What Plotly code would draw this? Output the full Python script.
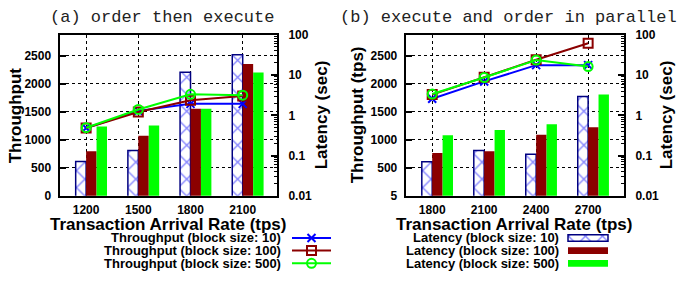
import plotly.graph_objects as go

W, H = 678, 283

# ---------------- data ----------------
cats_a = ["1200", "1500", "1800", "2100"]
thr_a_10 = [1210, 1515, 1640, 1640]
thr_a_100 = [1210, 1495, 1705, 1780]
thr_a_500 = [1215, 1540, 1810, 1795]
lat_a_10 = [0.071, 0.134, 11.8, 32]
lat_a_100 = [0.129, 0.31, 1.46, 18.9]
lat_a_500 = [0.53, 0.56, 1.46, 11.6]

cats_b = ["1800", "2100", "2400", "2700"]
thr_b_10 = [1730, 2040, 2330, 2330]
thr_b_100 = [1805, 2115, 2425, 2720]
thr_b_500 = [1815, 2110, 2420, 2305]
lat_b_10 = [0.070, 0.134, 0.108, 2.93]
lat_b_100 = [0.116, 0.129, 0.33, 0.51]
lat_b_500 = [0.32, 0.43, 0.60, 3.32]

thr_ticks = [0, 500, 1000, 1500, 2000, 2500]
thr_ticktext_a = ["0", "500", "1000", "1500", "2000", "2500"]
thr_ticktext_b = ["5", "500", "1000", "1500", "2000", "2500"]
lat_ticks = [0.01, 0.1, 1, 10, 100]
lat_ticktext = ["0.01", "0.1", "1", "10", "100"]
lat_minor = [m * d for d in (0.01, 0.1, 1, 10) for m in range(2, 10)]

line_labels = ["Throughput (block size: 10)", "Throughput (block size: 100)", "Throughput (block size: 500)"]
bar_labels = ["Latency (block size: 10)", "Latency (block size: 100)", "Latency (block size: 500)"]

BLUE = "#0000ff"
NAVY = "#000080"
DRED = "#8b0000"
GREEN = "#00ff00"
FONT = "Liberation Sans"
MONO = "Liberation Mono"

fig = go.Figure()

def px2fx(p):
    return p / W

def px2fy(p):
    return 1 - p / H

ydom = [px2fy(198.7), px2fy(29.3)]
panels = [
    dict(cats=cats_a, thr=[thr_a_10, thr_a_100, thr_a_500], lat=[lat_a_10, lat_a_100, lat_a_500],
         xd=[px2fx(59.5), px2fx(277)], xr=[-0.51, 3.657], tt=thr_ticktext_a,
         xa="x", ya="y", ya2="y2"),
    dict(cats=cats_b, thr=[thr_b_10, thr_b_100, thr_b_500], lat=[lat_b_10, lat_b_100, lat_b_500],
         xd=[px2fx(405.7), px2fx(624)], xr=[-0.51, 3.69], tt=thr_ticktext_b,
         xa="x2", ya="y3", ya2="y4"),
]

bar_offsets = [-0.2, 0.0, 0.2]
line_styles = [
    dict(color=BLUE, symbol="x-thin-open", size=8),
    dict(color=DRED, symbol="square-open", size=9),
    dict(color=GREEN, symbol="circle-open", size=9),
]

def bar_marker(k):
    if k == 0:
        return dict(color="white", line=dict(color=NAVY, width=1.5),
                    pattern=dict(shape="x", fgcolor=BLUE, bgcolor="white", size=12, solidity=0.2))
    if k == 1:
        return dict(color=DRED, line=dict(width=0))
    return dict(color=GREEN, line=dict(width=0))

for p in panels:
    idx = list(range(len(p["cats"])))
    for k, vals in enumerate(p["lat"]):
        fig.add_trace(go.Bar(x=idx, y=vals, width=0.2, offset=bar_offsets[k], marker=bar_marker(k),
                             xaxis=p["xa"], yaxis=p["ya"], showlegend=False))
    for k, vals in enumerate(p["thr"]):
        s = line_styles[k]
        fig.add_trace(go.Scatter(x=idx, y=vals, mode="lines+markers",
                                 line=dict(color=s["color"], width=2),
                                 marker=dict(symbol=s["symbol"], size=s["size"], color=s["color"],
                                             line=dict(color=s["color"], width=2)),
                                 xaxis=p["xa"], yaxis=p["ya2"], showlegend=False))

tickfont = dict(family=FONT, size=12, color="black", weight="bold")
layout = dict(width=W, height=H, margin=dict(l=0, r=0, t=0, b=0),
              plot_bgcolor="rgba(0,0,0,0)", paper_bgcolor="white", barmode="overlay", showlegend=False)

for i, p in enumerate(panels):
    xk = "xaxis" if i == 0 else "xaxis2"
    ylog = "yaxis" if i == 0 else "yaxis3"
    ylin = "yaxis2" if i == 0 else "yaxis4"
    layout[xk] = dict(domain=p["xd"], range=p["xr"], anchor=p["ya"], tickvals=list(range(4)),
                      ticktext=p["cats"], showgrid=True, gridcolor="black", griddash="dot", gridwidth=1,
                      showline=True, linecolor="black", linewidth=2, mirror=True, ticks="",
                      tickfont=tickfont, ticklabelstandoff=2, zeroline=False)
    layout[ylog] = dict(domain=ydom, type="log", range=[-2, 2], side="right", anchor=p["xa"],
                        tickvals=lat_ticks, ticktext=lat_ticktext, showgrid=False,
                        showline=True, linecolor="black", linewidth=2,
                        ticks="inside", ticklen=6, tickwidth=1.5, tickcolor="black",
                        minor=dict(tickvals=lat_minor, ticks="inside", ticklen=3, tickwidth=1,
                                   tickcolor="black", showgrid=False),
                        tickfont=tickfont, ticklabelstandoff=7, zeroline=False)
    layout[ylin] = dict(domain=ydom, range=[0, 2870], side="left", overlaying=p["ya"], anchor=p["xa"],
                        tickvals=thr_ticks, ticktext=p["tt"], showgrid=True, gridcolor="black",
                        griddash="dot", gridwidth=1, showline=True, linecolor="black", linewidth=2,
                        ticks="inside", ticklen=6, tickwidth=1.5, tickcolor="black",
                        tickfont=tickfont, ticklabelstandoff=4, zeroline=False)

# hidden full-page axes for legend keys (pixel units)
layout["xaxis3"] = dict(domain=[0, 1], range=[0, W], anchor="y5", visible=False, fixedrange=True)
layout["yaxis5"] = dict(domain=[0, 1], range=[H, 0], anchor="x3", visible=False, fixedrange=True)

rows_y = [243, 256.3, 269.7]
for k in range(3):
    s = line_styles[k]
    fig.add_trace(go.Scatter(x=[292, 331], y=[rows_y[k], rows_y[k]], mode="lines",
                             line=dict(color=s["color"], width=2), xaxis="x3", yaxis="y5",
                             showlegend=False, hoverinfo="skip"))
    fig.add_trace(go.Scatter(x=[311.5], y=[rows_y[k]], mode="markers",
                             marker=dict(symbol=s["symbol"], size=s["size"], color=s["color"],
                                         line=dict(color=s["color"], width=2)),
                             xaxis="x3", yaxis="y5", showlegend=False, hoverinfo="skip"))
    fig.add_trace(go.Bar(x=[40], y=[rows_y[k]], base=568, orientation="h", width=7, marker=bar_marker(k),
                         xaxis="x3", yaxis="y5", showlegend=False, hoverinfo="skip"))

ann = []
lbl = dict(family=FONT, size=13, color="black", weight="bold")
for k in range(3):
    ann.append(dict(x=px2fx(283), y=px2fy(rows_y[k]), xref="paper", yref="paper", text=line_labels[k],
                    showarrow=False, xanchor="right", yanchor="middle", font=lbl))
    ann.append(dict(x=px2fx(561), y=px2fy(rows_y[k]), xref="paper", yref="paper", text=bar_labels[k],
                    showarrow=False, xanchor="right", yanchor="middle", font=lbl))

titlefont = dict(family=FONT, size=17, color="black", weight="bold")
ymid = px2fy(114)
ann += [
    dict(x=px2fx(161.5), y=px2fy(11), text="(a) order then execute", font=dict(family=MONO, size=17, color="#222")),
    dict(x=px2fx(508), y=px2fy(11), text="(b) execute and order in parallel", font=dict(family=MONO, size=17, color="#222")),
    dict(x=px2fx(168.7), y=px2fy(228.5), text="Transaction Arrival Rate (tps)", font=titlefont),
    dict(x=px2fx(514), y=px2fy(228.5), text="Transaction Arrival Rate (tps)", font=titlefont),
    dict(x=px2fx(15), y=ymid, text="Throughput", textangle=-90, font=titlefont),
    dict(x=px2fx(321), y=ymid, text="Latency (sec)", textangle=-90, font=titlefont),
    dict(x=px2fx(357), y=ymid, text="Throughput (tps)", textangle=-90, font=titlefont),
    dict(x=px2fx(666), y=ymid, text="Latency (sec)", textangle=-90, font=titlefont),
]
for a in ann[-8:]:
    a.update(xref="paper", yref="paper", showarrow=False, xanchor="center", yanchor="middle")
layout["annotations"] = ann

fig.update_layout(**layout)
fig.write_html("out.html", config={"displayModeBar": False},
               post_script="document.body.style.margin='0';document.body.style.overflow='hidden';")
